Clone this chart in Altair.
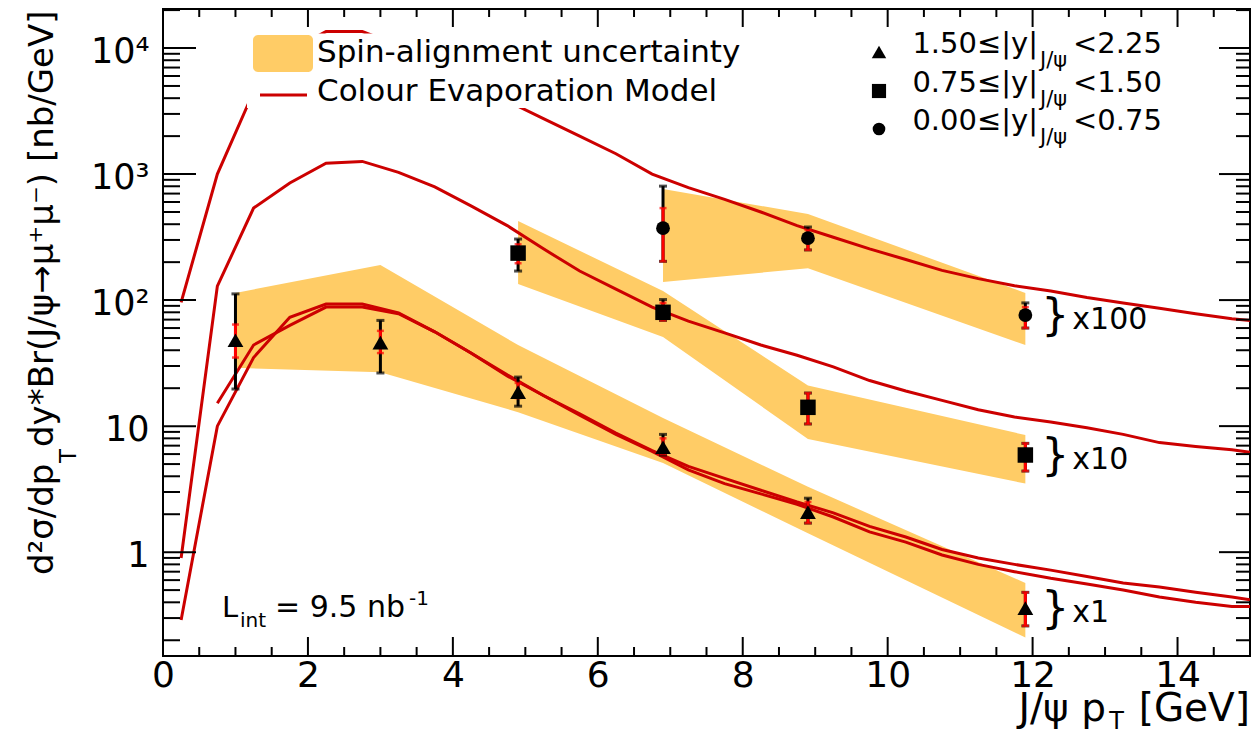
import altair as alt
import pandas as pd

# ---------------- values ----------------
bin_main = ["1.50≤|y|", "0.75≤|y|", "0.00≤|y|"]
bin_sub = ["J/ψ", "J/ψ", "J/ψ"]
bin_tail = ["<2.25", "<1.50", "<0.75"]
bin_shapes = ["triangle-up", "square", "circle"]
scale_labels = ["x1", "x10", "x100"]
legend_labels = ["Spin-alignment uncertainty", "Colour Evaporation Model"]

# 1.50<=|y|<2.25 (triangles, x1)
tri_x = [1.0, 3.0, 4.9, 6.9, 8.9, 11.9]
tri_y = [48, 46, 18.6, 6.8, 2.08, 0.36]
tri_tot_lo = [19.7, 26.4, 14.4, 5.9, 1.7, 0.26]
tri_tot_hi = [112, 69, 24.5, 8.6, 2.68, 0.48]
tri_sys_lo = [35, 38, 16.7, 6.0, 1.7, 0.26]
tri_sys_hi = [64, 57, 22, 8.0, 2.5, 0.48]
tri_band_lo = [29, 26.8, 12.9, 5.1, 1.41, 0.21]
tri_band_hi = [114, 190, 44, 11.6, 3.3, 0.57]

# 0.75<=|y|<1.50 (squares, x10)
sq_x = [4.9, 6.9, 8.9, 11.9]
sq_y = [236, 80, 14.1, 5.9]
sq_tot_lo = [170, 69, 10.4, 4.4]
sq_tot_hi = [305, 101, 18.3, 7.3]
sq_sys_lo = [196, 69, 10.4, 4.4]
sq_sys_hi = [277, 95, 18.3, 7.3]
sq_band_lo = [134, 51, 7.9, 3.5]
sq_band_hi = [424, 118, 21, 8.5]

# 0.00<=|y|<0.75 (circles, x100)
ci_x = [6.9, 8.9, 11.9]
ci_y = [372, 310, 76]
ci_tot_lo = [203, 250, 60]
ci_tot_hi = [802, 380, 95]
ci_sys_lo = [203, 250, 60]
ci_sys_hi = [537, 360, 88]
ci_band_lo = [139, 179, 44]
ci_band_hi = [760, 482, 114]

# Colour Evaporation Model curves
cem_x = [0.25, 0.75, 1.25, 1.75, 2.25, 2.75, 3.25, 3.75, 4.25, 4.75, 5.25, 5.75,
         6.25, 6.75, 7.25, 7.75, 8.25, 8.75, 9.25, 9.75, 10.25, 10.75, 11.25,
         11.75, 12.25, 12.75, 13.25, 13.75, 14.25, 14.75, 15.0]
cem_central = [96, 1000, 4500, 9500, 13500, 13500, 10500, 7600, 5400, 3800, 2750, 2000,
               1450, 1000, 780, 630, 500, 390, 315, 255, 210, 172, 148,
               130, 118, 105, 95, 86, 78, 71, 69]
cem_mid = [0.9, 129, 537, 850, 1220, 1260, 1030, 790, 560, 390, 255, 170,
           122, 88, 68, 55, 44, 36.5, 29.5, 23, 19, 16, 13.5,
           11.8, 10.8, 9.7, 8.6, 7.4, 6.9, 6.5, 6.2]
cem_fwd_a = [0.29, 10, 35, 73, 93, 93, 79, 56, 38, 25, 17.5, 12.5,
             8.8, 6.4, 4.8, 3.85, 3.1, 2.5, 2.05, 1.6, 1.32, 1.05, 0.9,
             0.8, 0.72, 0.64, 0.57, 0.53, 0.48, 0.44, 0.42]
cem_fwd_b = [None, 15.2, 44, 63, 88, 88, 78, 56, 38, 25.5, 17.5, 12.2,
             8.6, 6.3, 4.5, 3.5, 2.9, 2.4, 1.9, 1.45, 1.2, 0.95, 0.8,
             0.7, 0.62, 0.56, 0.5, 0.44, 0.4, 0.37, 0.37]

# axis ticks
x_major = [0, 2, 4, 6, 8, 10, 12, 14]
x_minor = [0.5, 1, 1.5, 2.5, 3, 3.5, 4.5, 5, 5.5, 6.5, 7, 7.5, 8.5, 9, 9.5,
           10.5, 11, 11.5, 12.5, 13, 13.5, 14.5]
y_major = [1, 10, 100, 1000, 10000]
y_major_text = ["1", "10", "10²", "10³", "10⁴"]
y_minor = [m * d for d in [0.1, 1, 10, 100, 1000, 10000] for m in range(2, 10)
           if 0.15 <= m * d <= 20400]

# ---------------- styling / layout ----------------
W, H = 1087, 647
PAD = {"left": 155, "top": 1, "right": 1, "bottom": 79}
OX, OY = 8 + PAD["left"], 8 + PAD["top"]   # page position of the plot origin
FONT = "DejaVu Sans"
ORANGE = "#FFCC66"
DRED = "#CC0000"
RED = "#FF0000"


def px(page_x):
    return page_x - OX


def py(page_y):
    return page_y - OY


xs = alt.Scale(domain=[0, 15], nice=False, zero=False)
ys = alt.Scale(type="log", domain=[0.15, 20400], nice=False)

y_expr = " : ".join(f"datum.value == {v} ? '{t}'" for v, t in zip(y_major[:-1], y_major_text[:-1]))
y_expr += f" : '{y_major_text[-1]}'"

x_axis = alt.Axis(values=x_major, ticks=False, domain=False, grid=False, labelFontSize=36,
                  labelPadding=2, labelFlush=False, title=None, labelFont=FONT,
                  labelColor="black")
y_axis = alt.Axis(values=y_major, labelExpr=y_expr, ticks=False, domain=False, grid=False,
                  labelFontSize=35, labelPadding=14, labelOffset=3, labelFlush=False,
                  title=None, labelFont=FONT, labelColor="black", labelOverlap=False)


def X(f):
    return alt.X(f, type="quantitative", scale=xs, axis=x_axis)


def Y(f):
    return alt.Y(f, type="quantitative", scale=ys, axis=y_axis)


one = pd.DataFrame({"a": [0]})
layers = []

# ---- uncertainty bands ----
band_rows = []
for g, gx, lo, hi in [("tri", tri_x, tri_band_lo, tri_band_hi),
                      ("sq", sq_x, sq_band_lo, sq_band_hi),
                      ("ci", ci_x, ci_band_lo, ci_band_hi)]:
    for a, b, c in zip(gx, lo, hi):
        band_rows.append({"g": g, "x": a, "lo": b, "hi": c})
layers.append(alt.Chart(pd.DataFrame(band_rows)).mark_area(color=ORANGE, opacity=1, clip=True)
              .encode(x=X("x"), y=Y("hi"), y2="lo", detail="g:N"))

# ---- CEM curves ----
line_rows = []
for g, vals in [("central", cem_central), ("mid", cem_mid), ("fa", cem_fwd_a), ("fb", cem_fwd_b)]:
    for a, v in zip(cem_x, vals):
        if v is not None:
            line_rows.append({"g": g, "x": a, "v": v})
layers.append(alt.Chart(pd.DataFrame(line_rows)).mark_line(color=DRED, strokeWidth=3, clip=True)
              .encode(x=X("x"), y=Y("v"), detail="g:N"))

# ---- legend background (white box hiding the curve, as in the original) ----
layers.append(alt.Chart(one).mark_rect(fill="white").encode(
    x=alt.value(px(247)), x2=alt.value(px(750)), y=alt.value(py(33.5)), y2=alt.value(py(108))))

# ---- inward ticks on all four sides ----
ymaj = pd.DataFrame({"v": y_major})
ymin = pd.DataFrame({"v": y_minor})
xmaj = pd.DataFrame({"v": x_major})
xmin = pd.DataFrame({"v": x_minor})
tk = dict(color="black", strokeWidth=2)
layers += [
    alt.Chart(ymaj).mark_rule(**tk).encode(y=Y("v"), x=alt.value(0), x2=alt.value(33)),
    alt.Chart(ymin).mark_rule(**tk).encode(y=Y("v"), x=alt.value(0), x2=alt.value(17)),
    alt.Chart(ymaj).mark_rule(**tk).encode(y=Y("v"), x=alt.value(W), x2=alt.value(W - 31)),
    alt.Chart(ymin).mark_rule(**tk).encode(y=Y("v"), x=alt.value(W), x2=alt.value(W - 14)),
    alt.Chart(xmaj).mark_rule(**tk).encode(x=X("v"), y=alt.value(H), y2=alt.value(H - 19)),
    alt.Chart(xmin).mark_rule(**tk).encode(x=X("v"), y=alt.value(H), y2=alt.value(H - 9)),
    alt.Chart(xmaj).mark_rule(**tk).encode(x=X("v"), y=alt.value(0), y2=alt.value(18)),
    alt.Chart(xmin).mark_rule(**tk).encode(x=X("v"), y=alt.value(0), y2=alt.value(8)),
]

# ---- data points with error bars ----
groups = [
    ("triangle-up", 250, tri_x, tri_y, tri_tot_lo, tri_tot_hi, tri_sys_lo, tri_sys_hi),
    ("square", 240, sq_x, sq_y, sq_tot_lo, sq_tot_hi, sq_sys_lo, sq_sys_hi),
    ("circle", 190, ci_x, ci_y, ci_tot_lo, ci_tot_hi, ci_sys_lo, ci_sys_hi),
]
black_l, red_l, mark_l = [], [], []
for shape, size, gx, gy, tlo, thi, slo, shi in groups:
    c = alt.Chart(pd.DataFrame({"x": gx, "y": gy, "tlo": tlo, "thi": thi, "slo": slo, "shi": shi}))
    black_l += [
        c.mark_rule(color="black", strokeWidth=3).encode(x=X("x"), y=Y("tlo"), y2="thi"),
        c.mark_tick(color="black", orient="horizontal", size=8, thickness=3).encode(x=X("x"), y=Y("thi")),
        c.mark_tick(color="black", orient="horizontal", size=8, thickness=3).encode(x=X("x"), y=Y("tlo")),
    ]
    red_l += [
        c.mark_rule(color=RED, strokeWidth=3).encode(x=X("x"), y=Y("slo"), y2="shi"),
        c.mark_tick(color=RED, orient="horizontal", size=7, thickness=2.5).encode(x=X("x"), y=Y("shi")),
        c.mark_tick(color=RED, orient="horizontal", size=7, thickness=2.5).encode(x=X("x"), y=Y("slo")),
    ]
    mark_l.append(c.mark_point(shape=shape, size=size, filled=True, color="black", opacity=1)
                  .encode(x=X("x"), y=Y("y")))
layers += black_l + red_l + mark_l

# ---- scale-factor annotations next to last points ----
ann = pd.DataFrame({"x": [tri_x[-1], sq_x[-1], ci_x[-1]],
                    "y": [tri_y[-1], sq_y[-1], ci_y[-1]],
                    "lab": scale_labels})
layers.append(alt.Chart(ann).mark_text(text="}", align="left", baseline="alphabetic", dx=16, dy=15,
                                       fontSize=44, font=FONT, color="black")
              .encode(x=X("x"), y=Y("y")))
layers.append(alt.Chart(ann).mark_text(align="left", baseline="alphabetic", dx=47, dy=14,
                                       fontSize=30, font=FONT, color="black")
              .encode(x=X("x"), y=Y("y"), text="lab:N"))

# ---- legends ----
txt = dict(align="left", baseline="alphabetic", font=FONT, color="black")
layers += [
    alt.Chart(one).mark_rect(fill=ORANGE, cornerRadius=5).encode(
        x=alt.value(px(253)), x2=alt.value(px(313)), y=alt.value(py(35)), y2=alt.value(py(72))),
    alt.Chart(one).mark_rule(color=DRED, strokeWidth=3).encode(
        x=alt.value(px(260)), x2=alt.value(px(307)), y=alt.value(py(95))),
    alt.Chart(one).mark_text(fontSize=31, **txt).encode(
        x=alt.value(px(317)), y=alt.value(py(62)), text=alt.value(legend_labels[0])),
    alt.Chart(one).mark_text(fontSize=31, **txt).encode(
        x=alt.value(px(317)), y=alt.value(py(101)), text=alt.value(legend_labels[1])),
]
row_base = [53, 92, 130]
sym_size = [210, 200, 160]
for i in range(3):
    layers += [
        alt.Chart(one).mark_point(shape=bin_shapes[i], size=sym_size[i], filled=True,
                                  color="black", opacity=1).encode(
            x=alt.value(px(879)), y=alt.value(py(row_base[i] - 1))),
        alt.Chart(one).mark_text(fontSize=29, font=FONT, color="black", align="right",
                                 baseline="alphabetic").encode(
            x=alt.value(px(1038)), y=alt.value(py(row_base[i])), text=alt.value(bin_main[i])),
        alt.Chart(one).mark_text(fontSize=21, **txt).encode(
            x=alt.value(px(1040)), y=alt.value(py(row_base[i] + 14)), text=alt.value(bin_sub[i])),
        alt.Chart(one).mark_text(fontSize=29, **txt).encode(
            x=alt.value(px(1073)), y=alt.value(py(row_base[i])), text=alt.value(bin_tail[i])),
    ]

# ---- luminosity label ----
layers += [
    alt.Chart(one).mark_text(fontSize=29, **txt).encode(x=alt.value(px(222)), y=alt.value(py(617)), text=alt.value("L")),
    alt.Chart(one).mark_text(fontSize=20, **txt).encode(x=alt.value(px(240)), y=alt.value(py(627)), text=alt.value("int")),
    alt.Chart(one).mark_text(fontSize=30, **txt).encode(x=alt.value(px(275)), y=alt.value(py(617)), text=alt.value("= 9.5 nb")),
    alt.Chart(one).mark_text(fontSize=20, **txt).encode(x=alt.value(px(409)), y=alt.value(py(605)), text=alt.value("-1")),
]

# ---- axis titles (with sub/superscripts) ----
rot = dict(angle=270, align="left", baseline="alphabetic", font=FONT, color="black")
layers += [
    alt.Chart(one).mark_text(fontSize=34, **rot).encode(
        x=alt.value(px(53)), y=alt.value(py(575)), text=alt.value("d²σ/dp")),
    alt.Chart(one).mark_text(fontSize=23, **rot).encode(
        x=alt.value(px(76)), y=alt.value(py(463)), text=alt.value("T")),
    alt.Chart(one).mark_text(fontSize=34, **rot).encode(
        x=alt.value(px(53)), y=alt.value(py(447)), text=alt.value("dy*Br(J/ψ→μ⁺μ⁻) [nb/GeV]")),
    alt.Chart(one).mark_text(fontSize=39, font=FONT, color="black", align="right", baseline="alphabetic").encode(
        x=alt.value(W), y=alt.value(py(721)), text=alt.value("[GeV]")),
    alt.Chart(one).mark_text(fontSize=24, font=FONT, color="black", align="right", baseline="alphabetic").encode(
        x=alt.value(px(1124)), y=alt.value(py(729)), text=alt.value("T")),
    alt.Chart(one).mark_text(fontSize=39, font=FONT, color="black", align="right", baseline="alphabetic").encode(
        x=alt.value(px(1106)), y=alt.value(py(721)), text=alt.value("J/ψ p")),
]

chart = alt.layer(*layers).properties(
    width=W, height=H,
    autosize=alt.AutoSizeParams(type="none"),
    padding=PAD,
).configure_view(stroke="black", strokeWidth=2)

chart.save("out.html", embed_options={"renderer": "svg", "actions": False})
